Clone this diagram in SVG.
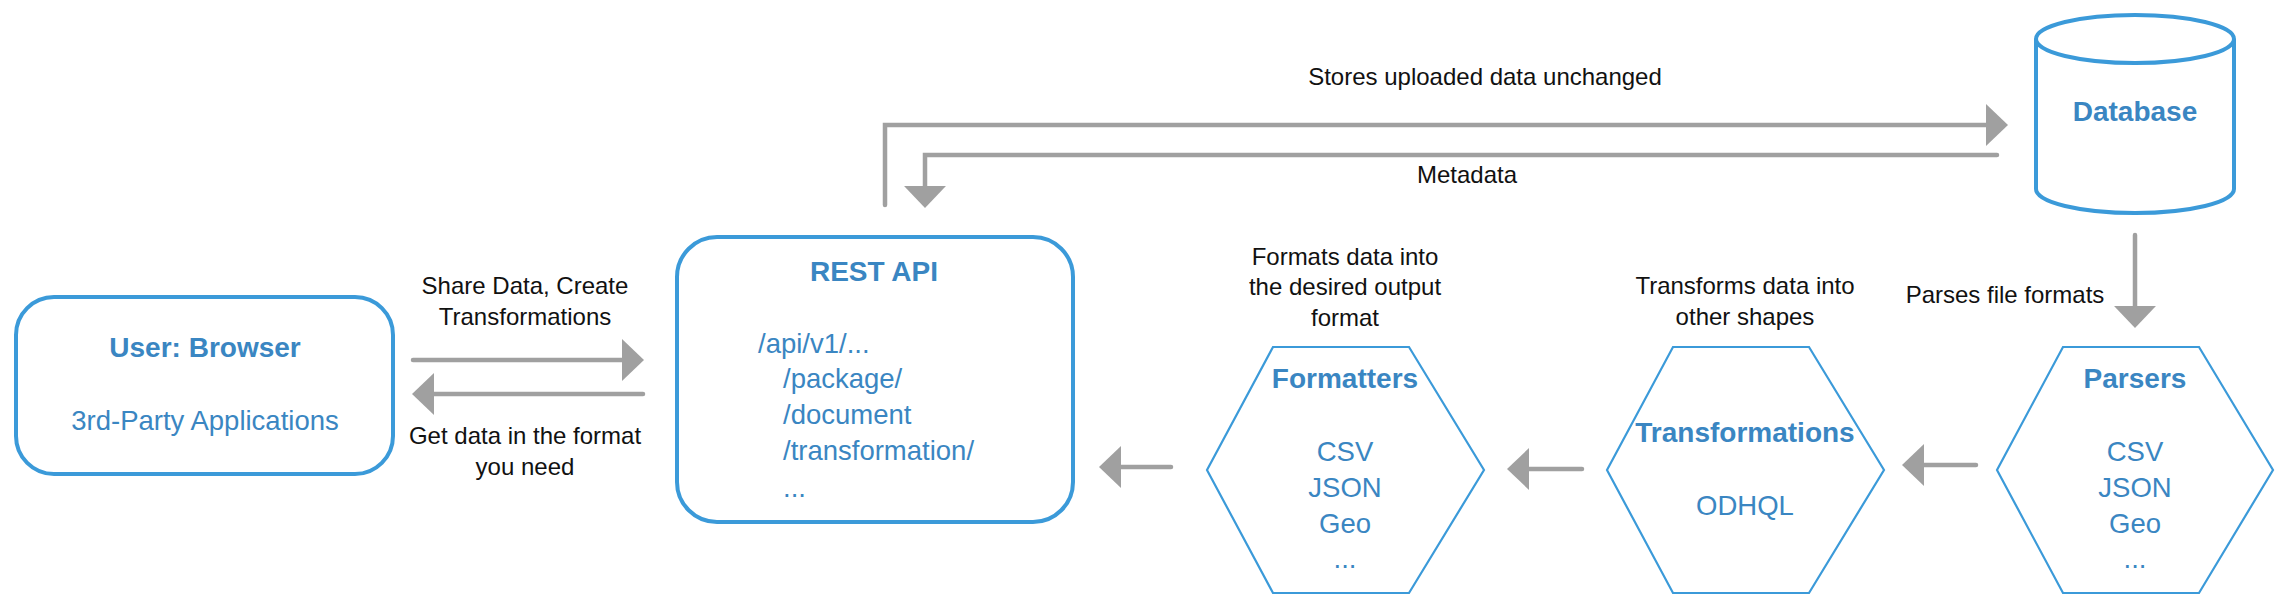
<svg xmlns="http://www.w3.org/2000/svg" width="2290" height="610" viewBox="0 0 2290 610">
<defs>
<style>
.box{fill:#fff;stroke:#3b9ad9;stroke-width:4}
.hex{fill:#fff;stroke:#3b9ad9;stroke-width:2.2}
.title{font-family:"Liberation Sans",Arial,sans-serif;font-size:28px;font-weight:bold;fill:#3a86c2}
.body{font-family:"Liberation Sans",Arial,sans-serif;font-size:27.5px;fill:#3a86c2}
.lbl{font-family:"Liberation Sans",Arial,sans-serif;font-size:24px;fill:#111}
.c{text-anchor:middle}
.conn{fill:none;stroke:#a0a0a0;stroke-width:4.5;stroke-linecap:round;stroke-linejoin:miter}
</style>
<marker id="ah" markerUnits="userSpaceOnUse" markerWidth="22" markerHeight="42" viewBox="0 0 21 40" refX="0" refY="20" orient="auto">
<path d="M0,0 L21,20 L0,40 Z" fill="#a0a0a0"/>
</marker>
</defs>
<rect width="2290" height="610" fill="#fff"/>

<g id="connectors">
<path class="conn" d="M413,360 H622" marker-end="url(#ah)"/>
<path class="conn" d="M643,394 H434" marker-end="url(#ah)"/>
<path class="conn" d="M885,205 V125 H1986" marker-end="url(#ah)"/>
<path class="conn" d="M1997,155 H925 V186" marker-end="url(#ah)"/>
<path class="conn" d="M2135,235 V306" marker-end="url(#ah)"/>
<path class="conn" d="M1976,465 H1924" marker-end="url(#ah)"/>
<path class="conn" d="M1582,469 H1529" marker-end="url(#ah)"/>
<path class="conn" d="M1171,467 H1121" marker-end="url(#ah)"/>
<text class="lbl c" x="525" y="294">Share Data, Create</text>
<text class="lbl c" x="525" y="325">Transformations</text>
<text class="lbl c" x="525" y="444">Get data in the format</text>
<text class="lbl c" x="525" y="475">you need</text>
<text class="lbl c" x="1485" y="85">Stores uploaded data unchanged</text>
<text class="lbl c" x="1467" y="183">Metadata</text>
<text class="lbl c" x="2005" y="303">Parses file formats</text>
<text class="lbl c" x="1745" y="294">Transforms data into</text>
<text class="lbl c" x="1745" y="325">other shapes</text>
<text class="lbl c" x="1345" y="265">Formats data into</text>
<text class="lbl c" x="1345" y="295">the desired output</text>
<text class="lbl c" x="1345" y="326">format</text>
</g>

<g id="user">
<rect class="box" x="16" y="297" width="377" height="177" rx="38" ry="38"/>
<text class="title c" x="205" y="357">User: Browser</text>
<text class="body c" x="205" y="430">3rd-Party Applications</text>
</g>

<g id="restapi">
<rect class="box" x="677" y="237" width="396" height="285" rx="40" ry="40"/>
<text class="title c" x="874" y="281">REST API</text>
<text class="body" x="758" y="353">/api/v1/...</text>
<text class="body" x="783" y="388">/package/</text>
<text class="body" x="783" y="424">/document</text>
<text class="body" x="783" y="460">/transformation/</text>
<text class="body" x="783" y="497">...</text>
</g>

<g id="database">
<path class="box" d="M2036,39 V189 A99,24 0 0 0 2234,189 V39"/>
<ellipse class="box" cx="2135" cy="39" rx="99" ry="24"/>
<text class="title c" x="2135" y="121">Database</text>
</g>

<g id="parsers">
<polygon class="hex" points="1997,470 2063,347 2199,347 2273,470 2199,593 2063,593"/>
<text class="title c" x="2135" y="388">Parsers</text>
<text class="body c" x="2135" y="461">CSV</text>
<text class="body c" x="2135" y="497">JSON</text>
<text class="body c" x="2135" y="533">Geo</text>
<text class="body c" x="2135" y="568">...</text>
</g>

<g id="transformations">
<polygon class="hex" points="1607,470 1673,347 1809,347 1884,470 1809,593 1673,593"/>
<text class="title c" x="1745" y="442">Transformations</text>
<text class="body c" x="1745" y="515">ODHQL</text>
</g>

<g id="formatters">
<polygon class="hex" points="1207,470 1273,347 1409,347 1484,470 1409,593 1273,593"/>
<text class="title c" x="1345" y="388">Formatters</text>
<text class="body c" x="1345" y="461">CSV</text>
<text class="body c" x="1345" y="497">JSON</text>
<text class="body c" x="1345" y="533">Geo</text>
<text class="body c" x="1345" y="568">...</text>
</g>
</svg>
